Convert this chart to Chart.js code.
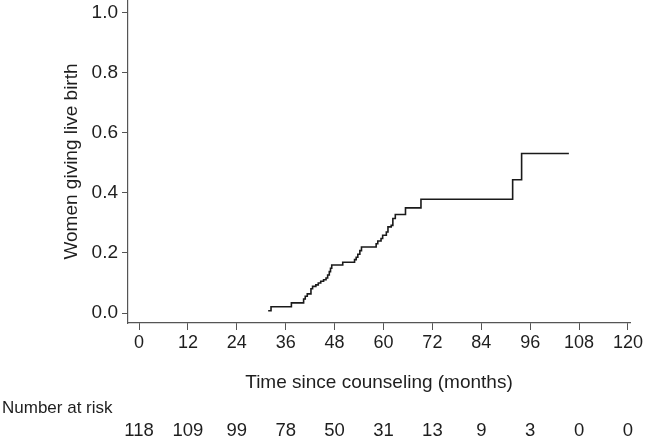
<!DOCTYPE html>
<html>
<head>
<meta charset="utf-8">
<script src="https://cdn.jsdelivr.net/npm/chart.js@4.4.1/dist/chart.umd.min.js"></script>
<style>
html,body{margin:0;padding:0;background:#fff;}
#wrap{width:646px;height:437px;}
</style>
</head>
<body>
<div id="wrap"><canvas id="c" width="646" height="437"></canvas></div>
<script>
// Kaplan-Meier style cumulative curve (months, proportion giving live birth)
const months = [31.7, 32.4, 37.4, 40.4, 40.8, 41.3, 42.2, 42.6, 43.4, 44.0, 44.6, 45.3, 45.9, 46.3, 46.7, 47.0, 47.3,
  50.0, 52.9, 53.3, 53.7, 54.2, 54.6, 58.2, 58.6, 59.4, 59.8, 60.7, 61.1, 61.9, 62.3, 62.9, 65.4, 69.2, 91.7, 93.9, 105.5];
const liveBirth = [0.008, 0.021, 0.034, 0.047, 0.056, 0.064, 0.081, 0.089, 0.094, 0.100, 0.106, 0.111, 0.117, 0.127, 0.138, 0.149, 0.160,
  0.169, 0.178, 0.186, 0.196, 0.208, 0.220, 0.231, 0.240, 0.248, 0.259, 0.270, 0.287, 0.292, 0.315, 0.328, 0.350, 0.379, 0.444, 0.531, 0.531];
const xTicks = [0, 12, 24, 36, 48, 60, 72, 84, 96, 108, 120];
const yTicks = [0, 0.2, 0.4, 0.6, 0.8, 1.0];
const atRisk = [118, 109, 99, 78, 50, 31, 13, 9, 3, 0, 0];

const FONT = 'Arial, "Liberation Sans", sans-serif';
const TXT = '#1e1e1e';
const AXIS = '#555555';

const riskPlugin = {
  id: 'riskTable',
  afterDraw(chart) {
    const ctx = chart.ctx;
    const xs = chart.scales.x;
    ctx.save();
    ctx.fillStyle = TXT;
    ctx.textBaseline = 'middle';
    ctx.textAlign = 'left';
    ctx.font = '17px ' + FONT;
    ctx.fillText('Number at risk', 2, 408);
    ctx.textAlign = 'center';
    ctx.font = '18.5px ' + FONT;
    xTicks.forEach((t, i) => {
      ctx.fillText(String(atRisk[i]), xs.getPixelForValue(t), 431);
    });
    ctx.restore();
  }
};

new Chart(document.getElementById('c'), {
  type: 'line',
  data: {
    datasets: [{
      data: months.map((m, i) => ({x: m, y: liveBirth[i]})),
      stepped: 'before',
      borderColor: '#1a1a1a',
      borderWidth: 1.6,
      pointRadius: 0,
      fill: false
    }]
  },
  options: {
    responsive: false,
    animation: false,
    devicePixelRatio: 1,
    layout: {padding: {left: 0, right: 16, top: 0, bottom: 0}},
    plugins: {legend: {display: false}, tooltip: {enabled: false}},
    scales: {
      x: {
        type: 'linear',
        min: -2.7,
        max: 120.5,
        afterBuildTicks(s) { s.ticks = xTicks.map(v => ({value: v})); },
        afterFit(s) { s.height = 114; s.paddingLeft = 0; s.paddingRight = 0; },
        grid: {display: true, drawOnChartArea: false, drawTicks: true, tickLength: 7, color: AXIS, lineWidth: 1},
        border: {display: true, color: AXIS, width: 1.2},
        ticks: {color: TXT, font: {family: FONT, size: 18}, padding: 2, maxRotation: 0, autoSkip: false,
          callback: v => String(v)},
        title: {display: true, text: 'Time since counseling (months)', color: TXT,
          font: {family: FONT, size: 19}, padding: {top: 0, bottom: 43}}
      },
      y: {
        type: 'linear',
        min: -0.033,
        max: 1.042,
        afterBuildTicks(s) { s.ticks = yTicks.map(v => ({value: v})); },
        afterFit(s) { s.width = 128; s.paddingTop = 0; s.paddingBottom = 0; },
        grid: {display: true, drawOnChartArea: false, drawTicks: true, tickLength: 6, color: AXIS, lineWidth: 1},
        border: {display: true, color: AXIS, width: 1.2},
        ticks: {color: TXT, font: {family: FONT, size: 19}, padding: 4,
          callback: v => Number(v).toFixed(1)},
        title: {display: true, text: 'Women giving live birth', color: TXT,
          font: {family: FONT, size: 19}, padding: {top: 60, bottom: 0}}
      }
    }
  },
  plugins: [riskPlugin]
});
</script>
</body>
</html>
